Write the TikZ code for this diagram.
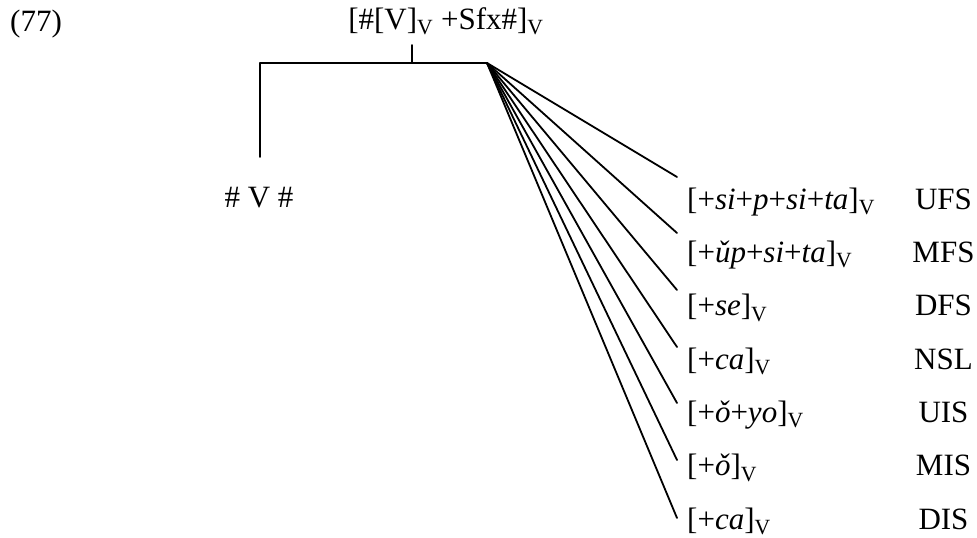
\documentclass[tikz,border=0pt]{standalone}
\usepackage{fontspec}
\setmainfont{Liberation Serif}
\begin{document}
\begin{tikzpicture}[x=1pt,y=-1pt,
  lbl/.style={inner sep=0pt, font=\fontsize{31}{37}\selectfont},
  ln/.style={line width=1.8pt, line cap=round}]
\useasboundingbox (0,0) rectangle (977,538);
% header
\node[lbl, anchor=base west] (num) at (10,31) {(77)};
\node[lbl, anchor=base] (top) at (446,29) {[\#[V]\textsubscript{V} +Sfx\#]\textsubscript{V}};
% tree skeleton
\coordinate (stemtop) at (412,45);
\coordinate (j) at (412,63);
\coordinate (lc) at (260,63);
\coordinate (fan) at (487,63);
\coordinate (vbot) at (260,157);
\draw[ln] (stemtop) -- (j);
\draw[ln] (lc) -- (fan);
\draw[ln] (lc) -- (vbot);
\node[lbl, anchor=base] (base) at (259,207) {\# V \#};
% right rows
\foreach \i/\ey/\by/\form/\tag in {
  1/177/209/{[+\textit{si}+\textit{p}+\textit{si}+\textit{ta}]\textsubscript{V}}/UFS,
  2/233/262.3/{[+\textit{ǔp}+\textit{si}+\textit{ta}]\textsubscript{V}}/MFS,
  3/290/315.7/{[+\textit{se}]\textsubscript{V}}/DFS,
  4/347/369/{[+\textit{ca}]\textsubscript{V}}/NSL,
  5/403/422.3/{[+\textit{ǒ}+\textit{yo}]\textsubscript{V}}/UIS,
  6/460/475.7/{[+\textit{ǒ}]\textsubscript{V}}/MIS,
  7/518/529/{[+\textit{ca}]\textsubscript{V}}/DIS}{
  \coordinate (e\i) at (677,\ey);
  \node[lbl, anchor=base west] (f\i) at (687,\by) {\form};
  \node[lbl, anchor=base] (t\i) at (943.5,\by) {\tag};
  \draw[ln] (fan) -- (e\i);
}
\end{tikzpicture}
\end{document}
